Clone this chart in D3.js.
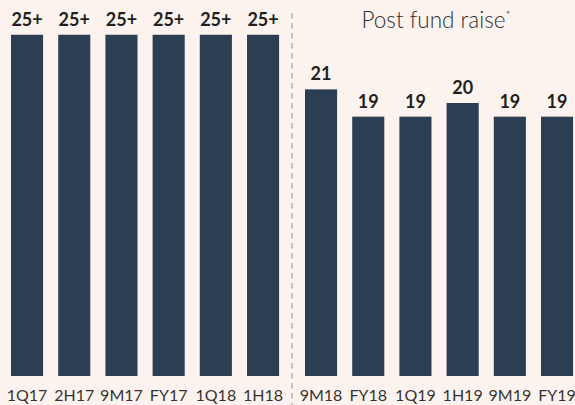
<!DOCTYPE html>
<html>
<head>
<meta charset="utf-8">
<script src="https://cdn.jsdelivr.net/npm/d3@7"></script>
<style>
  html, body { margin: 0; padding: 0; background: #fdf3ee; }
  svg { display: block; }
</style>
</head>
<body>
<svg id="chart" width="575" height="405"></svg>
<script>
// Periods before and after the fund raise
const preCategories  = ["1Q17", "2H17", "9M17", "FY17", "1Q18", "1H18"];
const preValues      = [25, 25, 25, 25, 25, 25];
const preLabels      = ["25+", "25+", "25+", "25+", "25+", "25+"];

const postCategories = ["9M18", "FY18", "1Q19", "1H19", "9M19", "FY19"];
const postValues     = [21, 19, 19, 20, 19, 19];
const postLabels     = ["21", "19", "19", "20", "19", "19"];

const sectionTitle = "Post fund raise";

const W = 575, H = 405;
const svg = d3.select("#chart");
svg.append("rect").attr("width", W).attr("height", H).attr("fill", "#fdf3ee");

const baseY = 376;
const y = d3.scaleLinear().domain([0, 25]).range([baseY, baseY - 25 * 13.65]);

const bandOpts = s => s.paddingInner(0.32).paddingOuter(0.16);
const xPre  = bandOpts(d3.scaleBand().domain(preCategories)).range([3.45, 286.65]);
const xPost = bandOpts(d3.scaleBand().domain(postCategories)).range([297.45, 580.65]);

const barColor = "#2c3e53";
const font = "Lato, 'Open Sans', sans-serif";

function drawGroup(cats, vals, labels, x) {
  const rows = cats.map((c, i) => ({ c, v: vals[i], l: labels[i] }));
  const g = svg.append("g");
  g.selectAll("rect.bar").data(rows).join("rect")
    .attr("class", "bar")
    .attr("x", d => x(d.c))
    .attr("width", x.bandwidth())
    .attr("y", d => y(d.v))
    .attr("height", d => baseY - y(d.v))
    .attr("fill", barColor);
  g.selectAll("text.val").data(rows).join("text")
    .attr("class", "val")
    .attr("x", d => x(d.c) + x.bandwidth() / 2)
    .attr("y", d => y(d.v) - 9)
    .attr("text-anchor", "middle")
    .attr("font-family", font)
    .attr("font-weight", 700)
    .attr("font-size", 18)
    .attr("fill", "#231f20")
    .text(d => d.l);
  // category axis along the bottom, without domain line or ticks
  const axis = svg.append("g")
    .attr("transform", `translate(0,${baseY})`)
    .call(d3.axisBottom(x).tickSize(0).tickPadding(13.5));
  axis.select(".domain").remove();
  axis.selectAll("text")
    .attr("font-family", font)
    .attr("font-size", 16)
    .attr("fill", "#333333");
}

drawGroup(preCategories, preValues, preLabels, xPre);
drawGroup(postCategories, postValues, postLabels, xPost);

// dashed divider between the two periods
const divX = (xPre(preCategories[5]) + xPre.bandwidth() + xPost(postCategories[0])) / 2;
svg.append("line")
  .attr("x1", divX).attr("x2", divX)
  .attr("y1", 13).attr("y2", H)
  .attr("stroke", "#a9a9a9")
  .attr("stroke-width", 1.3)
  .attr("stroke-dasharray", "5.5,4.5");

// section heading over the post fund raise bars
const titleX = (xPost(postCategories[0]) + xPost(postCategories[5]) + xPost.bandwidth()) / 2 - 3;
const title = svg.append("text")
  .attr("x", titleX)
  .attr("y", 28)
  .attr("text-anchor", "middle")
  .attr("font-family", font)
  .attr("font-weight", 300)
  .attr("font-size", 22.5)
  .attr("fill", "#2e2e2e");
title.append("tspan").text(sectionTitle);
title.append("tspan").attr("font-size", 12).attr("dy", -9).text("*");
</script>
</body>
</html>
